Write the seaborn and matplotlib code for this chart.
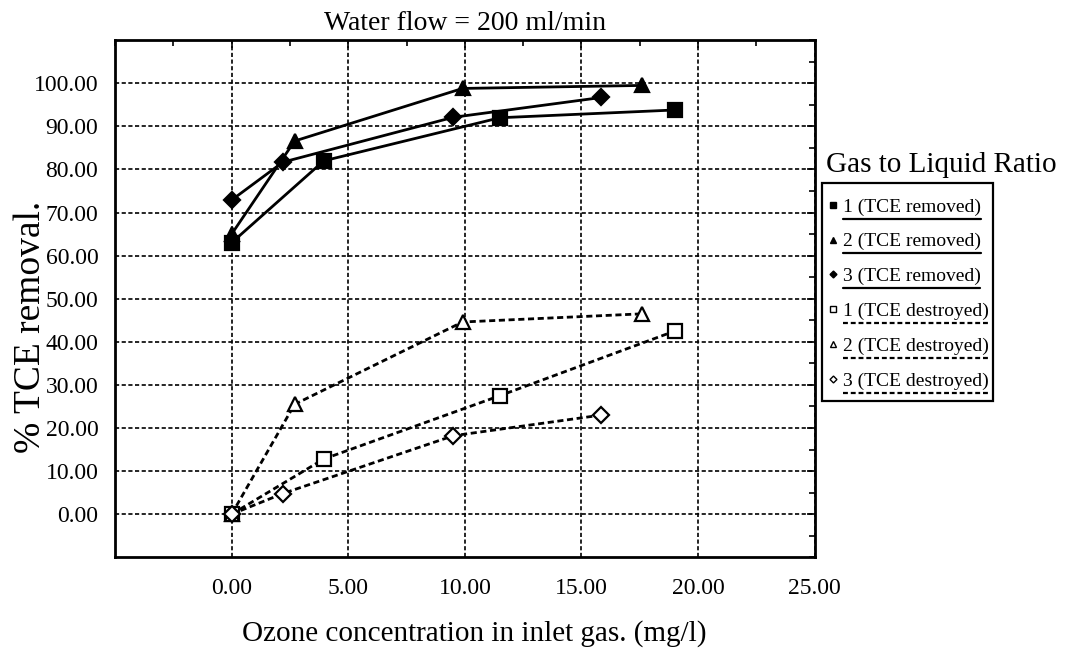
import numpy as np
import pandas as pd
import matplotlib
matplotlib.use("Agg")
import matplotlib.pyplot as plt
from matplotlib.lines import Line2D
from matplotlib.patches import Rectangle
from matplotlib.ticker import MultipleLocator, FormatStrFormatter
import seaborn as sns

# values
ratio_1_x = [0.0, 3.95, 11.5, 19.0]
ratio_2_x = [0.0, 2.7, 9.9, 17.6]
ratio_3_x = [0.0, 2.2, 9.5, 15.85]

removed_1 = [63.0, 82.0, 92.0, 93.8]
removed_2 = [65.0, 86.6, 98.8, 99.5]
removed_3 = [72.9, 81.7, 92.1, 96.7]

destroyed_1 = [0.0, 12.8, 27.5, 42.5]
destroyed_2 = [0.0, 25.5, 44.6, 46.5]
destroyed_3 = [0.0, 4.8, 18.2, 23.0]

labels = ["1 (TCE removed)", "2 (TCE removed)", "3 (TCE removed)",
          "1 (TCE destroyed)", "2 (TCE destroyed)", "3 (TCE destroyed)"]

x_ticks = [0, 5, 10, 15, 20, 25]
y_ticks = [0, 10, 20, 30, 40, 50, 60, 70, 80, 90, 100]

sns.set_style("white")
plt.rcParams['font.family'] = ['Liberation Serif', 'DejaVu Serif']
plt.rcParams['text.color'] = 'black'
plt.rcParams['axes.labelcolor'] = 'black'
plt.rcParams['xtick.color'] = 'black'
plt.rcParams['ytick.color'] = 'black'

fig = plt.figure(figsize=(10.65, 6.48), dpi=100)
ax = fig.add_axes([0.108, 0.140, 0.657, 0.798])

dash = (0, (2.2, 1.3))
series = [
    (ratio_1_x, removed_1, 's', 'black', '-'),
    (ratio_2_x, removed_2, '^', 'black', '-'),
    (ratio_3_x, removed_3, 'D', 'black', '-'),
    (ratio_1_x, destroyed_1, 's', 'white', dash),
    (ratio_2_x, destroyed_2, '^', 'white', dash),
    (ratio_3_x, destroyed_3, 'D', 'white', dash),
]
sizes = {'s': 10.5, '^': 10.5, 'D': 8.5}

for (xs, ys, mk, fc, ls), lab in zip(series, labels):
    df = pd.DataFrame({'x': xs, 'y': ys})
    sns.lineplot(data=df, x='x', y='y', ax=ax, sort=False, estimator=None,
                 color='black', lw=2.0, linestyle=ls, marker=mk,
                 markersize=sizes[mk], markerfacecolor=fc,
                 markeredgecolor='black', markeredgewidth=1.6, zorder=3)

ax.set_xlim(-5, 25)
ax.set_ylim(-10, 110)
ax.set_xticks(x_ticks)
ax.set_yticks(y_ticks)
ax.xaxis.set_minor_locator(MultipleLocator(2.5))
ax.yaxis.set_minor_locator(MultipleLocator(5))
ax.xaxis.set_major_formatter(FormatStrFormatter('%.2f'))
ax.yaxis.set_major_formatter(FormatStrFormatter('%.2f'))
ax.tick_params(which='both', direction='in', top=True, right=True,
               color='black', width=1.2)
ax.tick_params(which='major', length=6)
ax.tick_params(which='minor', length=4)
ax.tick_params(axis='x', which='major', labelsize=17, pad=15)
ax.tick_params(axis='y', which='major', labelsize=17, pad=12)

ax.grid(True, which='major', color='black', linestyle=(0, (2.5, 1.5)), lw=1.2)
ax.set_axisbelow(True)
for sp in ax.spines.values():
    sp.set_linewidth(2.0)
    sp.set_color('black')

ax.set_title("Water flow = 200 ml/min", fontsize=20, pad=7)
ax.set_xlabel("Ozone concentration in inlet gas. (mg/l)", fontsize=21)
ax.set_ylabel("% TCE removal.", fontsize=27)
ax.xaxis.set_label_coords(0.514, -0.122)
ax.yaxis.set_label_coords(-0.096, 0.445)

# legend: small markers, label underlined with the series line style
handles = []
for xs, ys, mk, fc, ls in series:
    handles.append(Line2D([], [], linestyle='none', marker=mk, markersize=4.5 if mk != 'D' else 3.5,
                          markerfacecolor=fc, markeredgecolor='black', markeredgewidth=1.0))
leg = fig.legend(handles, labels, loc='upper left', bbox_to_anchor=(828 / 1065, 1 - 198 / 648),
                 bbox_transform=fig.transFigure, borderaxespad=0, fontsize=14,
                 handlelength=0.5, handletextpad=0.25, labelspacing=0.88,
                 borderpad=0, frameon=False)
fig.text(0.776, 0.745, "Gas to Liquid Ratio", fontsize=21, ha='left', va='center')

fig.canvas.draw()
inv = fig.transFigure.inverted()
for t, (xs, ys, mk, fc, ls) in zip(leg.get_texts(), series):
    bb = t.get_window_extent()
    (x0, y0) = inv.transform((bb.x0, round(bb.y0) - 3))
    (x1, _) = inv.transform((bb.x1, round(bb.y0) - 3))
    fig.add_artist(Line2D([x0, x1], [y0, y0], transform=fig.transFigure,
                          color='black', lw=1.6, linestyle=ls, zorder=10))

# box around the legend, tighter at the sides than on top
lb = leg.get_window_extent()
(bx0, by0) = inv.transform((lb.x0 - 6, lb.y0 - 11))
(bx1, by1) = inv.transform((lb.x1 + 5, lb.y1 + 15))
fig.add_artist(Rectangle((bx0, by0), bx1 - bx0, by1 - by0, transform=fig.transFigure,
                         fill=False, edgecolor='black', lw=1.6, zorder=10))

fig.savefig("out.png", dpi=100)
